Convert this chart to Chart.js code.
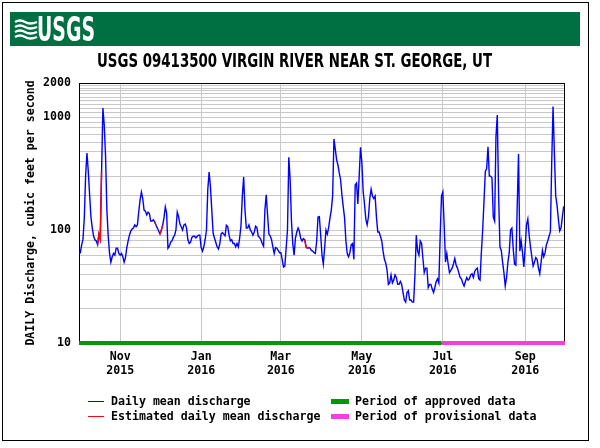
<!DOCTYPE html>
<html lang="en">
<head>
<meta charset="UTF-8">
<title>USGS 09413500 VIRGIN RIVER NEAR ST. GEORGE, UT</title>
<script src="https://cdn.jsdelivr.net/npm/chart.js@4.4.1/dist/chart.umd.min.js"></script>
<style>
    body { margin: 0; background: #fff; }
    #wrap { position: relative; width: 600px; height: 448px; overflow: hidden; background: #fff; }
    #chart { position: absolute; left: 0; top: 0; }
    #frame { position: absolute; left: 2px; top: 2px; width: 585px; height: 437px; border: 1px solid #000; pointer-events: none; }
    #banner { position: absolute; left: 10px; top: 12px; width: 570px; height: 34px; background: #006f41; }
    #banner svg { position: absolute; left: 4px; top: 6px; }
    #logoText { position: absolute; left: 27px; top: -3px; color: #fff; font: bold 34px 'Liberation Sans Narrow', 'DejaVu Sans Condensed', sans-serif; transform-origin: left top; white-space: nowrap; }
    #title { position: absolute; top: 49px; font: bold 19px 'Liberation Sans Narrow', 'DejaVu Sans Condensed', sans-serif; color: #000; transform-origin: left top; white-space: nowrap; }
    .leg { position: absolute; font: bold 11.6px 'DejaVu Sans Mono', monospace; color: #000; line-height: 14px; white-space: pre; }
    .swatch { position: absolute; }
</style>
</head>
<body>
<div id="wrap">
    <canvas id="chart" width="600" height="448"></canvas>
    <div id="banner">
        <svg width="24" height="22" viewBox="0 0 24 22">
            <path d="M1 4 Q6 1 11 4 T23 4" stroke="#fff" stroke-width="2.4" fill="none"/>
            <path d="M1 9 Q6 6 11 9 T23 9" stroke="#fff" stroke-width="2.4" fill="none"/>
            <path d="M1 14 Q6 11 11 14 T23 14" stroke="#fff" stroke-width="2.4" fill="none"/>
            <path d="M1 19 Q6 16 11 19 T23 19" stroke="#fff" stroke-width="2.4" fill="none"/>
        </svg>
        <div id="logoText">USGS</div>
    </div>
    <div id="title">USGS 09413500 VIRGIN RIVER NEAR ST. GEORGE, UT</div>

    <div class="swatch" style="left:88px; top:401px; width:16px; height:1px; background:#0000ff;"></div>
    <div class="leg" style="left:111px; top:394px;">Daily mean discharge</div>
    <div class="swatch" style="left:88px; top:416px; width:16px; height:1px; background:#ff0000;"></div>
    <div class="leg" style="left:111px; top:409px;">Estimated daily mean discharge</div>
    <div class="swatch" style="left:331px; top:399px; width:18px; height:5px; background:#009a00;"></div>
    <div class="leg" style="left:355px; top:394px;">Period of approved data</div>
    <div class="swatch" style="left:331px; top:414px; width:18px; height:5px; background:#f040e0;"></div>
    <div class="leg" style="left:355px; top:409px;">Period of provisional data</div>

    <div id="frame"></div>
</div>

<script>
    // daily mean discharge, cfs, day 0 = 2015-10-01
    const dailyFlow = [
        63, 63, 74, 83, 128, 307, 480, 330, 204, 130,
        104, 88, 82, 80, 74, 92, 83, 330, 1200, 850,
        450, 150, 88, 62, 52, 58, 62, 60, 69, 69,
        62, 60, 62, 58, 52, 57, 70, 80, 90, 98,
        102, 104, 111, 107, 111, 145, 185, 217, 190, 150,
        147, 136, 144, 140, 120, 120, 123, 118, 110, 104,
        98, 92, 100, 110, 128, 160, 141, 69, 72, 78,
        80, 86, 90, 100, 144, 131, 113, 107, 100, 111,
        113, 104, 82, 76, 78, 86, 88, 88, 85, 88,
        90, 90, 70, 65, 71, 82, 100, 230, 325, 240,
        150, 94, 85, 78, 71, 68, 75, 92, 95, 92,
        89, 110, 107, 90, 80, 82, 76, 76, 71, 76,
        71, 85, 110, 200, 295, 150, 104, 104, 111, 100,
        96, 90, 96, 108, 105, 88, 86, 82, 76, 72,
        150, 205, 136, 92, 89, 82, 71, 62, 70, 69,
        66, 63, 63, 55, 47, 48, 69, 100, 440, 280,
        120, 75, 60, 85, 96, 104, 97, 84, 80, 84,
        82, 71, 69, 70, 69, 66, 65, 63, 62, 80,
        130, 131, 90, 60, 50, 70, 100, 92, 105, 128,
        150, 200, 640, 520, 420, 376, 320, 280, 204, 160,
        128, 80, 62, 58, 63, 74, 76, 55, 250, 260,
        170, 300, 540, 400, 220, 170, 125, 111, 131, 190,
        230, 200, 190, 200, 130, 96, 96, 88, 80, 65,
        55, 51, 44, 33, 34, 40, 34, 36, 40, 38,
        33, 33, 35, 33, 28, 24, 23, 28, 29, 24,
        24, 23, 23, 40, 90, 65, 60, 80, 76, 56,
        42, 46, 46, 31, 33, 33, 30, 28, 31, 35,
        37, 34, 90, 200, 217, 110, 52, 62, 50, 42,
        44, 46, 50, 56, 49, 46, 42, 38, 37, 34,
        32, 35, 38, 36, 37, 40, 41, 38, 43, 45,
        46, 37, 36, 63, 100, 180, 330, 350, 545, 300,
        300, 289, 130, 120, 665, 1040, 204, 71, 66, 52,
        42, 32, 38, 52, 63, 100, 104, 68, 50, 49,
        160, 470, 65, 80, 63, 47, 70, 111, 125, 90,
        71, 58, 48, 52, 57, 55, 46, 41, 52, 66,
        58, 63, 74, 80, 88, 96, 400, 1240, 480, 200,
        166, 125, 98, 104, 130, 162
    ];
    // day ranges [first, last] flagged as estimated
    const estimatedSpans = [[14, 17], [57, 58], [61, 63], [170, 173]];
    const approvedSpan = [0, 273];
    const provisionalSpan = [273, 366];

    const xTickDays = [31, 92, 152, 213, 274, 336];
    const xTickLabels = [['Nov', '2015'], ['Jan', '2016'], ['Mar', '2016'], ['May', '2016'], ['Jul', '2016'], ['Sep', '2016']];
    const yGridValues = [10, 20, 30, 40, 50, 60, 70, 80, 90, 100, 200, 300, 400, 500, 600, 700, 800, 900,
        1000, 1100, 1200, 1300, 1400, 1500, 1600, 1700, 1800, 1900, 2000];
    const yLabelValues = [10, 100, 1000, 2000];

    const monoFont = { family: "'DejaVu Sans Mono', monospace", size: 11.6, weight: 'bold', lineHeight: 1.2 };
    const gridColor = '#c8c8c8';

    // squeeze the condensed header texts to the widths of the original
    function fitWidth(el, left, width) {
        const w = el.getBoundingClientRect().width;
        el.style.left = left + 'px';
        el.style.transform = 'scaleX(' + (width / w) + ')';
    }
    fitWidth(document.getElementById('title'), 97, 395);
    fitWidth(document.getElementById('logoText'), 27, 58);

    const flowPoints = dailyFlow.map((v, i) => ({ x: i, y: v }));
    const estimatedPoints = [];
    estimatedSpans.forEach(([a, b]) => {
        for (let d = a; d <= b; d++) estimatedPoints.push({ x: d, y: dailyFlow[d] });
        estimatedPoints.push({ x: b + 0.5, y: null });
    });

    // black box around the plot area, drawn under the data
    const frameBox = {
        id: 'frameBox',
        beforeDatasetsDraw(chart) {
            const { ctx, chartArea: a } = chart;
            ctx.save();
            ctx.strokeStyle = '#000';
            ctx.lineWidth = 1;
            ctx.strokeRect(a.left + 0.5, a.top + 0.5, a.right - a.left - 1, a.bottom - a.top);
            ctx.restore();
        }
    };

    new Chart(document.getElementById('chart'), {
        type: 'line',
        data: {
            datasets: [
                {
                    label: 'Period of approved data',
                    data: approvedSpan.map(d => ({ x: d, y: 10 })),
                    borderColor: '#009a00', borderWidth: 4, pointRadius: 0, clip: false
                },
                {
                    label: 'Period of provisional data',
                    data: provisionalSpan.map(d => ({ x: d, y: 10 })),
                    borderColor: '#f040e0', borderWidth: 4, pointRadius: 0, clip: false
                },
                {
                    label: 'Estimated daily mean discharge',
                    data: estimatedPoints,
                    borderColor: '#ff0000', borderWidth: 1.4, pointRadius: 0, spanGaps: false
                },
                {
                    label: 'Daily mean discharge',
                    data: flowPoints,
                    borderColor: '#0000ff', borderWidth: 1.4, pointRadius: 0
                }
            ]
        },
        options: {
            responsive: false,
            animation: false,
            devicePixelRatio: 1,
            layout: { padding: { left: 0, top: 83, right: 35, bottom: 65 } },
            plugins: { legend: { display: false }, tooltip: { enabled: false } },
            scales: {
                x: {
                    type: 'linear', min: 0, max: 366,
                    afterBuildTicks: s => { s.ticks = xTickDays.map(v => ({ value: v })); },
                    afterFit: s => { s.height = 40; },
                    ticks: {
                        autoSkip: false, maxRotation: 0, padding: 7, color: '#000', font: monoFont,
                        callback: v => xTickLabels[xTickDays.indexOf(v)]
                    },
                    grid: { color: gridColor, drawTicks: false },
                    border: { display: false }
                },
                y: {
                    type: 'logarithmic', min: 10, max: 2000,
                    afterBuildTicks: s => { s.ticks = yGridValues.map(v => ({ value: v })); },
                    afterFit: s => { s.width = 79; },
                    ticks: {
                        autoSkip: false, padding: 8, color: '#000', font: monoFont,
                        callback: v => yLabelValues.includes(v) ? String(v) : ''
                    },
                    grid: { color: gridColor, drawTicks: false },
                    border: { display: false },
                    title: {
                        display: true, text: 'DAILY Discharge, cubic feet per second',
                        color: '#000', font: monoFont, padding: { top: 24, bottom: 0 }
                    }
                }
            }
        },
        plugins: [frameBox]
    });
</script>
</body>
</html>
